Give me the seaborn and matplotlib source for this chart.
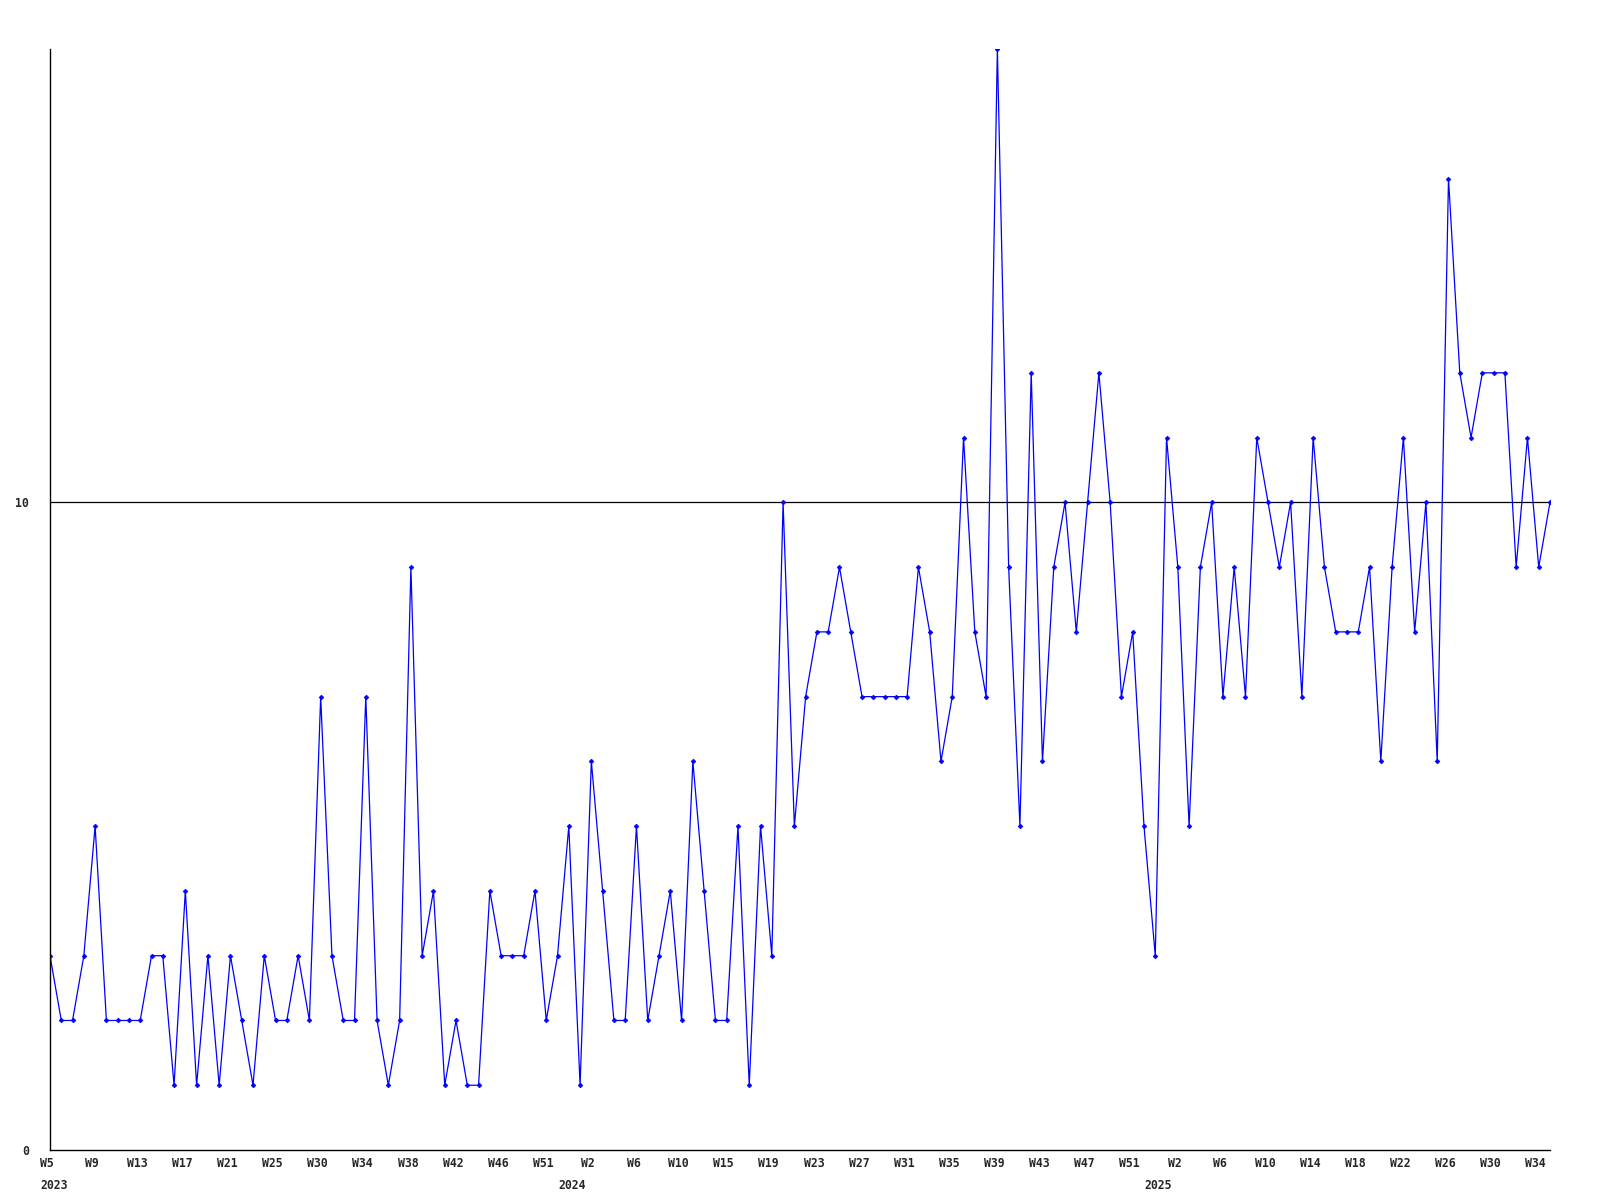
import matplotlib
matplotlib.use("Agg")
import matplotlib.pyplot as plt
import matplotlib.transforms as mtransforms
import seaborn as sns
import pandas as pd
import numpy as np

# weekly values, 2023 W5 .. 2025 W35 (134 points)
values = [
    3, 2, 2, 3, 5, 2, 2, 2, 2, 3, 3, 1, 4, 1, 3, 1, 3,
    2, 1, 3, 2, 2, 3, 2, 7, 3, 2, 2, 7, 2, 1, 2, 9, 3,
    4, 1, 2, 1, 1, 4, 3, 3, 3, 4, 2, 3, 5, 1, 6, 4, 2,
    2, 5, 2, 3, 4, 2, 6, 4, 2, 2, 5, 1, 5, 3, 10, 5, 7,
    8, 8, 9, 8, 7, 7, 7, 7, 7, 9, 8, 6, 7, 11, 8, 7, 17,
    9, 5, 12, 6, 9, 10, 8, 10, 12, 10, 7, 8, 5, 3, 11, 9, 5,
    9, 10, 7, 9, 7, 11, 10, 9, 10, 7, 11, 9, 8, 8, 8, 9, 6,
    9, 11, 8, 10, 6, 15, 12, 11, 12, 12, 12, 9, 11, 9, 10,
]

tick_labels = [
    "W5", "W9", "W13", "W17", "W21", "W25", "W30", "W34", "W38", "W42",
    "W46", "W51", "W2", "W6", "W10", "W15", "W19", "W23", "W27", "W31",
    "W35", "W39", "W43", "W47", "W51", "W2", "W6", "W10", "W14", "W18",
    "W22", "W26", "W30", "W34",
]
tick_step = 4

years = ["2023", "2024", "2025"]
year_tick_index = [0, 12, 25]   # index into tick_labels where each year starts

y_ticks = [0, 10]

df = pd.DataFrame({"x": np.arange(len(values)), "value": values})

sns.set_theme(style="white")
plt.rcParams["font.family"] = ["DejaVu Sans Mono", "DejaVu Sans"]

fig = plt.figure(figsize=(16, 12), dpi=100)
ax = fig.add_axes([50 / 1600, 50 / 1200, 1500 / 1600, (1150 - 49) / 1200])

sns.lineplot(data=df, x="x", y="value", ax=ax, color="#0000ff", linewidth=0.9,
             marker="D", markersize=2.4, markeredgewidth=0.5,
             markeredgecolor="#0000ff", markerfacecolor="#0000ff")

ax.set_xlim(0, len(values) - 1)
ax.set_ylim(0, max(values))

for s in ["top", "right"]:
    ax.spines[s].set_visible(False)
for s in ["left", "bottom"]:
    ax.spines[s].set_color("black")
    ax.spines[s].set_linewidth(1.0)

ax.axhline(10, color="black", linewidth=0.9, zorder=0)

tick_pos = [i * tick_step for i in range(len(tick_labels))]
ax.set_xticks(tick_pos)
ax.set_xticklabels(tick_labels, fontsize=8.3, fontweight="bold")
ax.set_yticks(y_ticks)
ax.set_yticklabels([str(t) for t in y_ticks], fontsize=8.3, fontweight="bold")
ax.tick_params(axis="x", length=0, pad=5)
ax.tick_params(axis="y", length=0, pad=15)
ax.set_xlabel("")
ax.set_ylabel("")
ax.grid(False)

shift = mtransforms.ScaledTranslation(-3 / 100, 0, fig.dpi_scale_trans)
for lbl in ax.get_xticklabels():
    lbl.set_transform(lbl.get_transform() + shift)

for yr, ti in zip(years, year_tick_index):
    xpos = tick_pos[ti]
    if ti == 0:
        ax.annotate(yr, xy=(xpos, 0), xycoords=("data", "axes fraction"),
                    xytext=(-7, -21), textcoords="offset points",
                    ha="left", va="top", fontsize=8.3, fontweight="bold")
    else:
        ax.annotate(yr, xy=(xpos, 0), xycoords=("data", "axes fraction"),
                    xytext=(-14, -21), textcoords="offset points",
                    ha="center", va="top", fontsize=8.3, fontweight="bold")

fig.savefig("out.png", dpi=100, facecolor="white")
